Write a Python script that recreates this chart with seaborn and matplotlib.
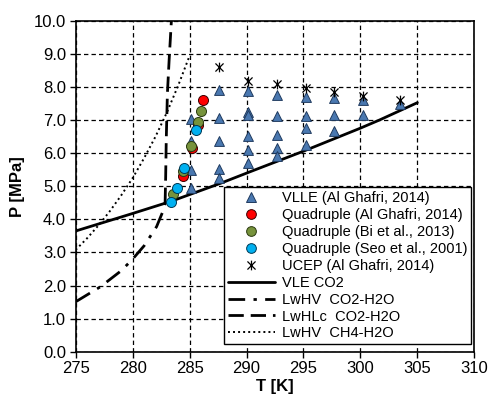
import numpy as np
import pandas as pd
import seaborn as sns
import matplotlib.pyplot as plt
from matplotlib.path import Path
from matplotlib.lines import Line2D

# VLLE data (Al Ghafri, 2014)
vlle_T = [285.1, 285.1, 285.1, 285.1,
          287.6, 287.6, 287.6, 287.6, 287.6,
          290.1, 290.1, 290.1, 290.1, 290.1, 290.1,
          292.7, 292.7, 292.7, 292.7, 292.7,
          295.2, 295.2, 295.2, 295.2,
          297.7, 297.7, 297.7,
          300.2, 300.2,
          303.5]
vlle_P = [7.05, 6.36, 5.50, 4.94,
          7.91, 7.06, 6.38, 5.53, 5.26,
          7.87, 7.26, 7.16, 6.53, 6.11, 5.72,
          7.77, 7.12, 6.54, 6.15, 5.92,
          7.71, 7.12, 6.76, 6.26,
          7.67, 7.15, 6.66,
          7.61, 7.15,
          7.49]

# quadruple points
q_ghafri_T = [286.2, 285.7, 285.2, 284.4]
q_ghafri_P = [7.61, 6.85, 6.15, 5.32]
q_bi_T = [286.0, 285.75, 285.1, 284.45, 283.55]
q_bi_P = [7.27, 6.95, 6.22, 5.46, 4.76]
q_seo_T = [285.55, 284.55, 283.9, 283.35]
q_seo_P = [6.70, 5.56, 4.94, 4.53]

# UCEP
ucep_T = [287.6, 290.1, 292.7, 295.2, 297.7, 300.2, 303.5]
ucep_P = [8.62, 8.19, 8.08, 7.96, 7.86, 7.73, 7.61]

# phase boundary curves
vle_T = [275, 280, 283.4, 287.7, 290.3, 294.9, 300.0, 301.7, 305.0]
vle_P = [3.65, 4.18, 4.55, 5.09, 5.44, 6.05, 6.76, 7.01, 7.53]

lwhv_co2_T = [275.0, 277.2, 279.0, 280.0, 281.0, 282.1, 282.7, 282.85]
lwhv_co2_P = [1.51, 1.97, 2.45, 2.80, 3.20, 3.78, 4.28, 4.50]

lwhlc_T = [282.85, 282.9, 282.95, 283.05, 283.2, 283.4]
lwhlc_P = [4.50, 5.30, 6.40, 7.80, 8.80, 10.0]

lwhv_ch4_T = [275, 276, 277, 278, 279, 280, 281, 282, 283, 284, 285]
lwhv_ch4_P = [3.08, 3.43, 3.82, 4.25, 4.73, 5.25, 5.85, 6.50, 7.23, 8.05, 8.95]

sns.set_style("white")
plt.rcParams['font.family'] = ['Liberation Sans', 'DejaVu Sans']
plt.rcParams['text.color'] = 'black'
plt.rcParams['axes.labelcolor'] = 'black'
plt.rcParams['xtick.color'] = 'black'
plt.rcParams['ytick.color'] = 'black'

fig = plt.figure(figsize=(4.9, 4.03), dpi=100)
ax = fig.add_axes([0.1545, 0.1273, 0.8135, 0.8206])

# Excel style star marker (x with vertical bar)
star = Path([(-1, -1), (1, 1), (-1, 1), (1, -1), (0, -1.2), (0, 1.2)],
            [Path.MOVETO, Path.LINETO, Path.MOVETO, Path.LINETO, Path.MOVETO, Path.LINETO])

dashdot = [6, 3, 1.2, 3]
dashed = [5.5, 2.5]
dotted = [1, 1.6]
lw_line = 2.0

sns.lineplot(x=vle_T, y=vle_P, sort=False, color='black', lw=lw_line, ax=ax, zorder=4)
sns.lineplot(x=lwhv_co2_T, y=lwhv_co2_P, sort=False, color='black', lw=lw_line, ax=ax, zorder=4)
ax.lines[-1].set_dashes(dashdot)
sns.lineplot(x=lwhlc_T, y=lwhlc_P, sort=False, color='black', lw=lw_line, ax=ax, zorder=4)
ax.lines[-1].set_dashes(dashed)
sns.lineplot(x=lwhv_ch4_T, y=lwhv_ch4_P, sort=False, color='black', lw=1.4, ax=ax, zorder=4)
ax.lines[-1].set_dashes(dotted)

sns.scatterplot(x=vlle_T, y=vlle_P, marker='^', s=50, color='#4A78B0',
                edgecolor='#1F3A5F', linewidth=0.7, ax=ax, zorder=5)
sns.scatterplot(x=q_ghafri_T, y=q_ghafri_P, marker='o', s=52, color='#FF0000',
                edgecolor='#3A0000', linewidth=0.7, ax=ax, zorder=6)
sns.scatterplot(x=q_bi_T, y=q_bi_P, marker='o', s=52, color='#77933C',
                edgecolor='#2A3A10', linewidth=0.7, ax=ax, zorder=7)
sns.scatterplot(x=q_seo_T, y=q_seo_P, marker='o', s=52, color='#00B0F0',
                edgecolor='#003A55', linewidth=0.7, ax=ax, zorder=8)
ax.plot(ucep_T, ucep_P, linestyle='none', marker=star, markersize=7,
        markeredgecolor='black', markeredgewidth=0.9, zorder=9)

ax.set_xlim(275, 310)
ax.set_ylim(0, 10)
ax.set_xticks(np.arange(275, 311, 5))
ax.set_yticks(np.arange(0, 10.1, 1))
ax.set_yticklabels([f"{v:.1f}" for v in np.arange(0, 10.1, 1)])
ax.grid(True, color='black', linestyle=(0, (3.5, 2.5)), lw=0.9)
ax.tick_params(axis='both', labelsize=12, direction='out', length=4, width=1,
               color='black', labelcolor='black', left=True, bottom=True, pad=3)
for sp in ax.spines.values():
    sp.set_color('black')
    sp.set_linewidth(1.2)

ax.set_xlabel("T [K]", fontsize=12, fontweight='bold', labelpad=2)
ax.set_ylabel("P [MPa]", fontsize=12, fontweight='bold', labelpad=6)

handles = [
    Line2D([], [], ls='none', marker='^', markersize=7, markerfacecolor='#4A78B0',
           markeredgecolor='#1F3A5F', markeredgewidth=0.7),
    Line2D([], [], ls='none', marker='o', markersize=7, markerfacecolor='#FF0000',
           markeredgecolor='#3A0000', markeredgewidth=0.7),
    Line2D([], [], ls='none', marker='o', markersize=7, markerfacecolor='#77933C',
           markeredgecolor='#2A3A10', markeredgewidth=0.7),
    Line2D([], [], ls='none', marker='o', markersize=7, markerfacecolor='#00B0F0',
           markeredgecolor='#003A55', markeredgewidth=0.7),
    Line2D([], [], ls='none', marker=star, markersize=7, markeredgecolor='black',
           markeredgewidth=0.9),
    Line2D([], [], color='black', lw=lw_line),
    Line2D([], [], color='black', lw=lw_line, dashes=dashdot),
    Line2D([], [], color='black', lw=lw_line, dashes=dashed),
    Line2D([], [], color='black', lw=1.4, dashes=dotted),
]
labels = ["VLLE (Al Ghafri, 2014)", "Quadruple (Al Ghafri, 2014)",
          "Quadruple (Bi et al., 2013)", "Quadruple (Seo et al., 2001)",
          "UCEP (Al Ghafri, 2014)", "VLE CO2", "LwHV  CO2-H2O",
          "LwHLc  CO2-H2O", "LwHV  CH4-H2O"]
leg = ax.legend(handles, labels, loc='lower right', bbox_to_anchor=(0.992, 0.023),
                fontsize=10.5, frameon=True, fancybox=False, framealpha=1,
                edgecolor='black', labelspacing=0.2, borderpad=0.25,
                handlelength=3.2, handletextpad=0.5, borderaxespad=0)
leg.get_frame().set_linewidth(1.0)
leg.set_zorder(20)

fig.savefig("out.png", dpi=100)
